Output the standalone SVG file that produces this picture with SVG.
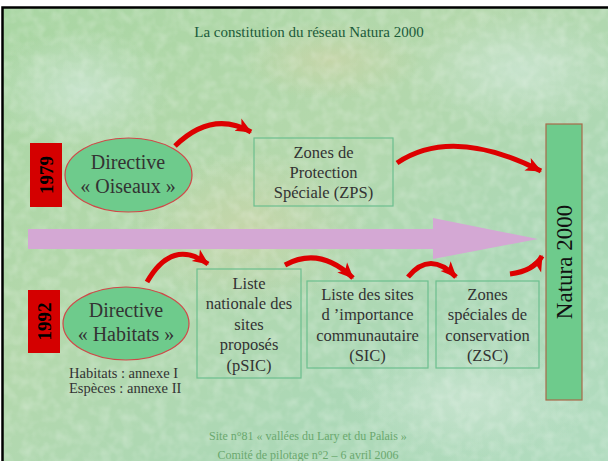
<svg xmlns="http://www.w3.org/2000/svg" width="608" height="461" viewBox="0 0 608 461">
  <defs>
    <linearGradient id="bg" x1="0" y1="0" x2="1" y2="1">
      <stop offset="0" stop-color="#a9d6a3"/>
      <stop offset="0.4" stop-color="#b4d8ac"/>
      <stop offset="0.7" stop-color="#acd8b6"/>
      <stop offset="1" stop-color="#b2dcc0"/>
    </linearGradient>
    <radialGradient id="spot1" cx="0.5" cy="0.5" r="0.5">
      <stop offset="0" stop-color="#cde6d4" stop-opacity="0.8"/>
      <stop offset="1" stop-color="#cde6d4" stop-opacity="0"/>
    </radialGradient>
    <radialGradient id="spot2" cx="0.5" cy="0.5" r="0.5">
      <stop offset="0" stop-color="#d2d4a8" stop-opacity="0.6"/>
      <stop offset="1" stop-color="#d2d4a8" stop-opacity="0"/>
    </radialGradient>
    <filter id="tex" x="0" y="0" width="100%" height="100%">
      <feTurbulence type="fractalNoise" baseFrequency="0.09" numOctaves="2" seed="3" result="n"/>
      <feColorMatrix type="matrix" values="0 0 0 0 1  0 0 0 0 1  0 0 0 0 1  0 0 0 -1.2 0.75" />
    </filter>
    <marker id="head" markerUnits="userSpaceOnUse" markerWidth="18" markerHeight="16" refX="15" refY="8" orient="auto">
      <path d="M0,1 L16,8 L0,15 L4,8 Z" fill="#dd0000"/>
    </marker>
    <style>
      .t { font-family: "Liberation Serif", "Times New Roman", serif; fill: #333333; text-anchor: middle; }
      .bt { font-size: 16.5px; }
      .box { fill: none; stroke: #6cbf8e; stroke-width: 1.2; }
      .ell { fill: #6ecb8c; stroke: #d04848; stroke-width: 1.2; }
      .year { fill: #d40000; }
      .yt { font-family: "Liberation Serif", "Times New Roman", serif; font-weight: bold; font-size: 19px; fill: #000; text-anchor: middle; }
      .red { fill: none; stroke: #dd0000; stroke-width: 5; stroke-linecap: butt; marker-end: url(#head); }
      .foot { font-family: "Liberation Serif", "Times New Roman", serif; font-size: 12px; fill: #6aa86e; text-anchor: middle; }
    </style>
  </defs>

  <!-- background -->
  <rect x="0" y="0" width="608" height="461" fill="#ffffff"/>
  <rect x="2" y="7" width="606" height="454" fill="url(#bg)"/>
  <ellipse cx="80" cy="90" rx="90" ry="60" fill="url(#spot1)"/>
  <ellipse cx="250" cy="230" rx="120" ry="80" fill="url(#spot2)"/>
  <ellipse cx="470" cy="400" rx="120" ry="60" fill="url(#spot1)"/>
  <ellipse cx="520" cy="70" rx="110" ry="60" fill="url(#spot1)"/>
  <ellipse cx="330" cy="60" rx="90" ry="40" fill="url(#spot2)"/>
  <rect x="2" y="7" width="606" height="454" filter="url(#tex)" opacity="0.35"/>
  <rect x="2.5" y="7.5" width="610" height="460" fill="none" stroke="#000" stroke-width="2.5"/>

  <!-- title -->
  <text x="309" y="37" class="t" style="font-size:15px; fill:#1b5a3a">La constitution du réseau Natura 2000</text>

  <!-- big lavender arrow -->
  <path d="M28,229 L433,229 L433,218 L538,239 L433,259 L433,249 L28,249 Z" fill="#d4a8d4"/>

  <g id="year1979">
    <rect class="year" x="30" y="143" width="32" height="64"/>
    <text class="yt" transform="translate(53,175) rotate(-90)">1979</text>
  </g>
  <g id="oiseaux">
    <ellipse class="ell" cx="128.5" cy="175" rx="63.5" ry="37"/>
    <text class="t" x="128" y="169" style="font-size:20px">Directive</text>
    <text class="t" x="128" y="193" style="font-size:20px">« Oiseaux »</text>
  </g>
  <g id="zps">
    <rect class="box" x="254" y="138" width="139" height="68"/>
    <text class="t bt" x="323.5" y="158">Zones de</text>
    <text class="t bt" x="323.5" y="178">Protection</text>
    <text class="t bt" x="323.5" y="198">Spéciale (ZPS)</text>
  </g>
  <g id="natura">
    <rect x="546" y="124" width="36" height="276" fill="#6ecb8c" stroke="#a86a4a" stroke-width="1.2"/>
    <text class="t" transform="translate(572,262) rotate(-90)" style="font-size:23px; fill:#111">Natura 2000</text>
  </g>
  <g id="year1992">
    <rect class="year" x="28" y="290" width="32" height="63"/>
    <text class="yt" transform="translate(51,321.5) rotate(-90)">1992</text>
  </g>
  <g id="habitats">
    <ellipse class="ell" cx="126" cy="323.5" rx="63" ry="36.5"/>
    <text class="t" x="126" y="317" style="font-size:20px">Directive</text>
    <text class="t" x="126" y="341" style="font-size:20px">« Habitats »</text>
    <text class="t" x="69" y="378" style="font-size:14.5px; text-anchor:start">Habitats : annexe I</text>
    <text class="t" x="69" y="393" style="font-size:14.5px; text-anchor:start">Espèces : annexe II</text>
  </g>
  <g id="psic">
    <rect class="box" x="197" y="269" width="104" height="109"/>
    <text class="t bt" x="249" y="289">Liste</text>
    <text class="t bt" x="249" y="309">nationale des</text>
    <text class="t bt" x="249" y="330">sites</text>
    <text class="t bt" x="249" y="350">proposés</text>
    <text class="t bt" x="249" y="371">(pSIC)</text>
  </g>
  <g id="sic">
    <rect class="box" x="307" y="281" width="121" height="87"/>
    <text class="t bt" x="367.5" y="300">Liste des sites</text>
    <text class="t bt" x="367.5" y="320">d ’importance</text>
    <text class="t bt" x="367.5" y="341">communautaire</text>
    <text class="t bt" x="367.5" y="361">(SIC)</text>
  </g>
  <g id="zsc">
    <rect class="box" x="436" y="281" width="103" height="87"/>
    <text class="t bt" x="487.5" y="300">Zones</text>
    <text class="t bt" x="487.5" y="320">spéciales de</text>
    <text class="t bt" x="487.5" y="341">conservation</text>
    <text class="t bt" x="487.5" y="361">(ZSC)</text>
  </g>

  <g id="connectors">
    <path class="red" d="M175,146 Q212,110 251,132"/>
    <path class="red" d="M397,163 Q452,126 541,171"/>
    <path class="red" d="M147,282 Q172,238 208,264"/>
    <path class="red" d="M285,265 Q320,246 353,278"/>
    <path class="red" d="M408,277 Q430,250 456,277"/>
    <path class="red" d="M510,274 Q534,271 542,256"/>
  </g>

  <!-- footer -->
  <text x="308" y="440" class="foot">Site n°81 « vallées du Lary et du Palais »</text>
  <text x="308" y="459" class="foot">Comité de pilotage n°2 – 6 avril 2006</text>
</svg>
